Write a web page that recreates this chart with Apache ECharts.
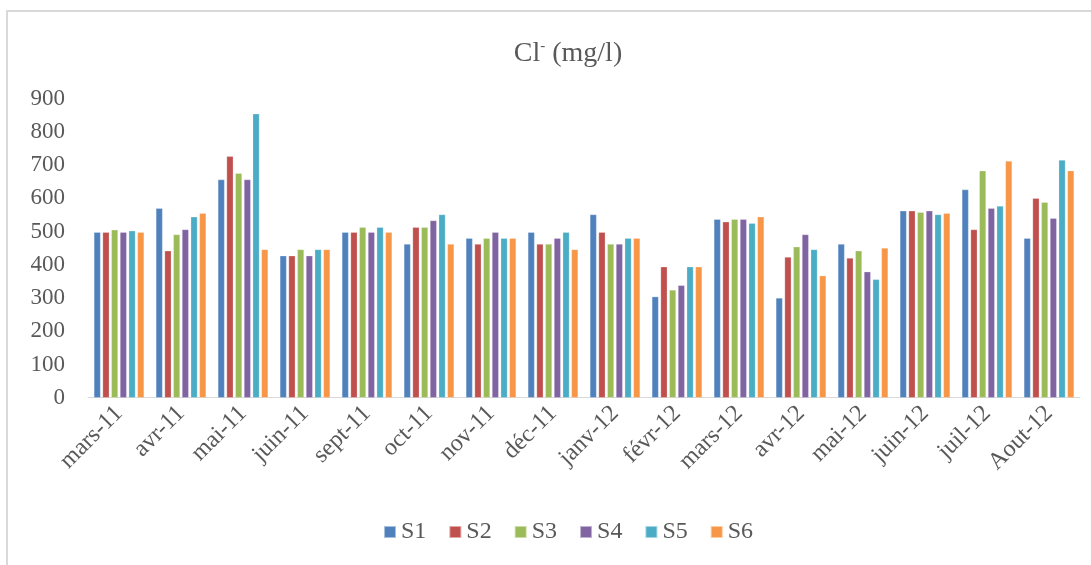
<!DOCTYPE html>
<html>
<head>
<meta charset="utf-8">
<script src="https://cdn.jsdelivr.net/npm/echarts@6/dist/echarts.min.js"></script>
<style>
html,body{margin:0;padding:0;background:#fff;}
#c{width:1091px;height:565px;}
</style>
</head>
<body>
<div id="c"></div>
<script>
const categories = ['mars-11','avr-11','mai-11','juin-11','sept-11','oct-11','nov-11','déc-11','janv-12','févr-12','mars-12','avr-12','mai-12','juin-12','juil-12','Aout-12'];
const S1 = [498, 570, 656, 427, 498, 462, 480, 498, 551, 304, 537, 300, 462, 562, 626, 480];
const S2 = [498, 442, 726, 427, 498, 513, 462, 462, 498, 394, 529, 423, 420, 562, 506, 600];
const S3 = [505, 491, 675, 446, 513, 513, 480, 462, 462, 324, 537, 454, 442, 558, 683, 588];
const S4 = [498, 506, 656, 427, 498, 533, 498, 480, 462, 338, 537, 491, 379, 562, 570, 540];
const S5 = [502, 544, 854, 446, 513, 551, 480, 498, 480, 394, 525, 446, 356, 551, 577, 715];
const S6 = [498, 555, 446, 446, 498, 462, 480, 446, 480, 394, 544, 367, 450, 555, 712, 683];
const seriesNames = ['S1','S2','S3','S4','S5','S6'];
const seriesData = [S1, S2, S3, S4, S5, S6];
const colors = ['#4f81bd','#c0504d','#9bbb59','#8064a2','#4bacc6','#f79646'];
const yTicks = {min: 0, max: 900, interval: 100};

const font = '"Liberation Serif", "DejaVu Serif", serif';
const chart = echarts.init(document.getElementById('c'));
chart.setOption({
  animation: false,
  backgroundColor: '#fff',
  color: colors,
  graphic: [{
    type: 'rect',
    shape: {x: 7, y: 11, width: 1200, height: 700},
    style: {fill: 'none', stroke: '#d9d9d9', lineWidth: 2},
    silent: true
  }],
  title: {
    text: '{a|Cl}{s|-}{a| (mg/l)}',
    left: 563,
    textAlign: 'center',
    top: 34,
    textStyle: {
      rich: {
        a: {fontFamily: font, fontSize: 28, fontWeight: 'normal', color: '#595959'},
        s: {fontFamily: font, fontSize: 15, fontWeight: 'normal', color: '#595959', verticalAlign: 'top', padding: [0, 0, 14, 0]}
      }
    }
  },
  grid: {left: 88, right: 11, top: 98.5, bottom: 167.3, containLabel: false},
  legend: {
    data: seriesNames,
    bottom: 16,
    left: 378,
    icon: 'rect',
    itemWidth: 12,
    itemHeight: 12,
    itemGap: 22,
    textStyle: {fontFamily: font, fontSize: 24, color: '#595959'}
  },
  xAxis: {
    type: 'category',
    data: categories,
    axisLine: {lineStyle: {color: '#d9d9d9', width: 1}},
    axisTick: {show: false},
    axisLabel: {
      rotate: 45,
      interval: 0,
      margin: 12,
      fontFamily: font,
      fontSize: 24,
      color: '#595959'
    }
  },
  yAxis: {
    type: 'value',
    min: yTicks.min,
    max: yTicks.max,
    interval: yTicks.interval,
    axisLine: {show: false},
    axisTick: {show: false},
    splitLine: {show: false},
    axisLabel: {fontFamily: font, fontSize: 23, color: '#595959', margin: 23}
  },
  series: seriesNames.map((n, i) => ({
    name: n,
    type: 'bar',
    data: seriesData[i],
    barGap: '30%',
    barCategoryGap: '19%',
    itemStyle: {color: colors[i], borderColor: 'rgba(255,255,255,0.5)', borderWidth: 0.5}
  }))
});
</script>
</body>
</html>
